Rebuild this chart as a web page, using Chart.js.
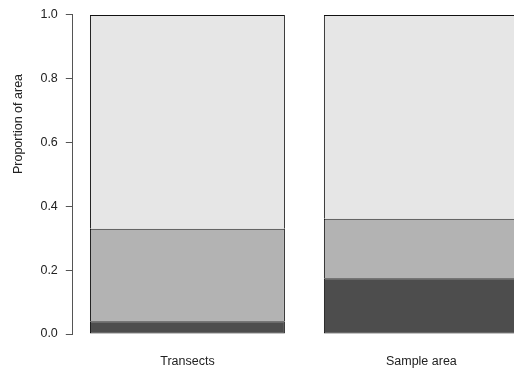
<!DOCTYPE html>
<html>
<head>
<meta charset="utf-8">
<script src="https://cdn.jsdelivr.net/npm/chart.js@4/dist/chart.umd.min.js"></script>
<style>
  html, body { margin: 0; padding: 0; background: #fff; overflow: hidden; }
  #wrap { width: 514px; height: 368px; overflow: hidden; }
</style>
</head>
<body>
<div id="wrap"><canvas id="c" width="536" height="368"></canvas></div>
<script>
// Categories and the x position of each bar (unit-width bars, 0.2 gap)
const categories = ['Transects', 'Sample area'];
const barCenters = [0.7, 1.9];

// Share of area per class, stacked bottom to top
const darkShare  = [0.04, 0.175];
const midShare   = [0.29, 0.186];
const lightShare = [0.67, 0.639];

const yTicks = [0, 0.2, 0.4, 0.6, 0.8, 1.0];
const yTitle = 'Proportion of area';

const FONT = '"Liberation Sans", Arial, Helvetica, sans-serif';
Chart.defaults.font.family = FONT;
Chart.defaults.font.size = 12.5;
Chart.defaults.color = '#222';

const toPoints = arr => arr.map((v, i) => ({ x: barCenters[i], y: v }));
// Upper segments skip their bottom edge so each boundary is a single line
const barStyle = (skip) => ({
  borderColor: '#111',
  borderWidth: 1,
  borderSkipped: skip,
  barPercentage: 1 / 1.2,
  categoryPercentage: 1
});

// Axis line spanning only 0..1, plus the rotated y title
const axisDecor = {
  id: 'axisDecor',
  afterDraw(chart) {
    const { ctx, chartArea, scales } = chart;
    const y = scales.y;
    const x0 = Math.round(chartArea.left) - 0.5;
    ctx.save();
    ctx.strokeStyle = '#555';
    ctx.lineWidth = 1;
    ctx.beginPath();
    ctx.moveTo(x0, y.getPixelForValue(yTicks[0]));
    ctx.lineTo(x0, y.getPixelForValue(yTicks[yTicks.length - 1]));
    ctx.stroke();

    ctx.translate(19, 124);
    ctx.rotate(-Math.PI / 2);
    ctx.font = '12.5px ' + FONT;
    ctx.fillStyle = '#222';
    ctx.textAlign = 'center';
    ctx.textBaseline = 'middle';
    ctx.fillText(yTitle, 0, 0);
    ctx.restore();
  }
};

new Chart(document.getElementById('c'), {
  type: 'bar',
  data: {
    datasets: [
      { data: toPoints(darkShare),  backgroundColor: '#4d4d4d', ...barStyle(false) },
      { data: toPoints(midShare),   backgroundColor: '#b3b3b3', ...barStyle('bottom') },
      { data: toPoints(lightShare), backgroundColor: '#e6e6e6', ...barStyle('bottom') }
    ]
  },
  options: {
    responsive: false,
    animation: false,
    layout: { padding: { top: 2.2, left: 0, right: 0, bottom: 0 } },
    plugins: { legend: { display: false }, tooltip: { enabled: false } },
    scales: {
      x: {
        type: 'linear',
        stacked: true,
        offset: false,
        min: 0.112,
        max: 2.488,
        grid: { display: false, offset: false },
        border: { display: false },
        ticks: {
          padding: -1,
          autoSkip: false,
          maxRotation: 0,
          callback: (v, i) => categories[i]
        },
        afterBuildTicks: s => { s.ticks = barCenters.map(v => ({ value: v })); },
        afterFit: s => { s.height = 21.2; s.paddingLeft = 0; s.paddingRight = 0; }
      },
      y: {
        stacked: true,
        min: -0.04,
        max: 1.04,
        grid: { drawOnChartArea: false, drawTicks: true, tickLength: 7, color: '#555' },
        border: { display: false },
        ticks: {
          padding: 8,
          callback: v => Number(v).toFixed(1)
        },
        afterBuildTicks: s => { s.ticks = yTicks.map(v => ({ value: v })); },
        afterFit: s => { s.width = 72.8; s.paddingTop = 0; s.paddingBottom = 0; }
      }
    }
  },
  plugins: [axisDecor]
});
</script>
</body>
</html>
